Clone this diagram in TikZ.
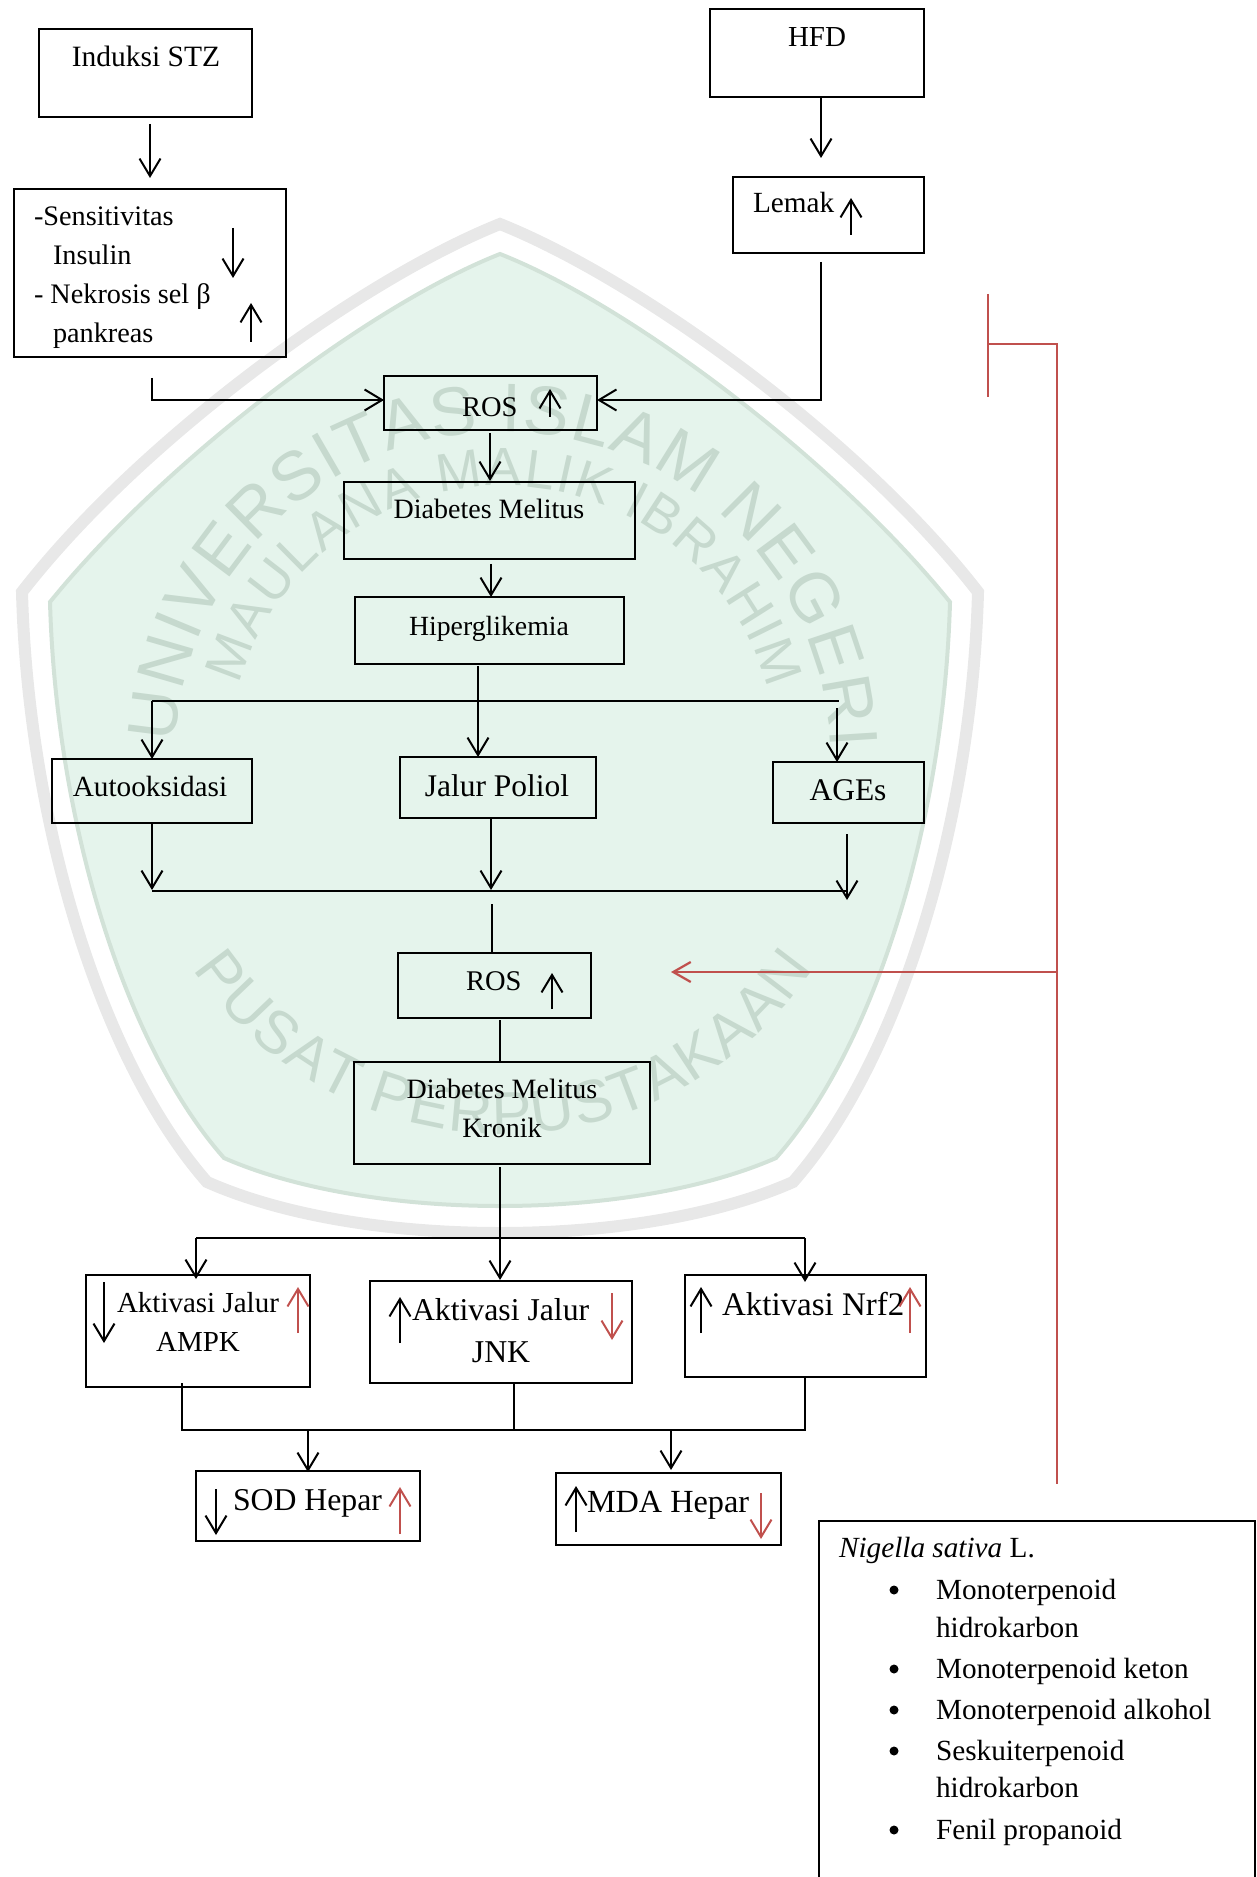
\documentclass[tikz,border=0pt]{standalone}
\usepackage{fontspec}
\setmainfont{Liberation Serif}
\newfontfamily\wmfam{Liberation Sans}
\usetikzlibrary{arrows.meta,calc,decorations.text}
\definecolor{redc}{RGB}{192,80,77}
\definecolor{wmband}{RGB}{232,232,232}
\definecolor{wmfill}{RGB}{229,244,236}
\definecolor{wmline}{RGB}{210,226,216}
\definecolor{wmtext}{RGB}{198,217,206}
\tikzset{
 boxst/.style={draw=black, line width=0.55pt, inner sep=0pt, outer sep=0pt},
 txt/.style={inner sep=0pt, outer sep=0pt, font=\fontsize{#1}{14pt}\selectfont},
 txt/.default=11.6pt,
 ln/.style={line width=0.8pt},
 conn/.style={line width=0.8pt, -{Straight Barb[length=7pt,width=8.4pt]}},
 mini/.style={line width=0.8pt, -{Straight Barb[length=7pt,width=8.4pt]}},
 redmini/.style={mini, draw=redc},
 redl/.style={draw=redc, line width=0.55pt},
 redarr/.style={draw=redc, line width=0.9pt, -{Straight Barb[length=7pt,width=8pt]}},
}
\newcommand\mybox[5]{\node[boxst, minimum width={(#4-#2)*0.4pt}, minimum height={(#5-#3)*0.4pt}] (#1) at ({(#2+#4)/2},{(#3+#5)/2}) {};}
\begin{document}
\begin{tikzpicture}[x=0.4pt,y=-0.4pt]
\useasboundingbox (0,0) rectangle (1257,1877);
\clip (0,0) rectangle (1257,1877);
% ---------- watermark ----------
\path[fill=wmfill, draw=wmline, line width=1.6pt]
 (500,254) .. controls (630,305) and (835,460) .. (950,602)
 .. controls (944,820) and (876,1045) .. (776,1158)
 .. controls (630,1222) and (370,1222) .. (224,1158)
 .. controls (124,1045) and (56,820) .. (50,602)
 .. controls (165,460) and (370,305) .. (500,254) -- cycle;
\draw[wmband, line width=4.8pt, line join=miter]
 (500,224) .. controls (640,280) and (860,440) .. (978,592)
 .. controls (972,820) and (900,1060) .. (793,1182)
 .. controls (640,1250) and (360,1250) .. (207,1182)
 .. controls (100,1060) and (28,820) .. (22,592)
 .. controls (140,440) and (360,280) .. (500,224) -- cycle;
\begin{scope}[shift={(503,760)}, y=0.4pt]
\path[decorate, decoration={text along path, text align={fit to path}, text color=wmtext,
  text={|\wmfam\fontsize{27.5pt}{30pt}\selectfont|UNIVERSITAS ISLAM NEGERI}}]
  (177:328) arc[start angle=177, end angle=2, radius=328];
\path[decorate, decoration={text along path, text align={fit to path}, text color=wmtext,
  text={|\wmfam\fontsize{21.5pt}{26pt}\selectfont|MAULANA MALIK IBRAHIM}}]
  (164:274) arc[start angle=164, end angle=15, radius=274];
\path[decorate, decoration={text along path, text align={fit to path}, text color=wmtext,
  text={|\wmfam\fontsize{24pt}{28pt}\selectfont|PUSAT PERPUSTAKAAN}}]
  (214:374) arc[start angle=214, end angle=326, radius=374];
\end{scope}
% ---------- boxes ----------
\mybox{ind}{39}{29}{252}{117}
\mybox{hfd}{710}{9}{924}{97}
\mybox{sens}{14}{189}{286}{357}
\mybox{lemak}{733}{177}{924}{253}
\mybox{ros1}{384}{376}{597}{430}
\mybox{dm}{344}{482}{635}{559}
\mybox{hip}{355}{597}{624}{664}
\mybox{auto}{52}{759}{252}{823}
\mybox{jp}{400}{757}{596}{818}
\mybox{ages}{773}{762}{924}{823}
\mybox{ros2}{398}{953}{591}{1018}
\mybox{dmk}{354}{1062}{650}{1164}
\mybox{ampk}{86}{1275}{310}{1387}
\mybox{jnk}{370}{1281}{632}{1383}
\mybox{nrf}{685}{1275}{926}{1377}
\mybox{sod}{196}{1471}{420}{1541}
\mybox{mda}{556}{1473}{781}{1545}
\mybox{nig}{819}{1521}{1255}{1920}
% ---------- texts ----------
\node[txt=11.8pt,anchor=base] (t1) at (146,67) {Induksi STZ};
\node[txt=11.6pt,anchor=base] (t2) at (817,47) {HFD};
\node[txt=11.3pt,anchor=base west] (t3) at (34,226) {-Sensitivitas};
\node[txt=11.3pt,anchor=base west] (t4) at (53,265) {Insulin};
\node[txt=11.3pt,anchor=base west] (t5) at (34,304) {- Nekrosis sel β};
\node[txt=11.3pt,anchor=base west] (t6) at (53,343) {pankreas};
\node[txt=11.7pt,anchor=base west] (t7) at (753,213) {Lemak};
\node[txt=11.4pt,anchor=base west] (t8) at (462,417) {ROS};
\node[txt=11.2pt,anchor=base] (t9) at (489,519) {Diabetes Melitus};
\node[txt=11.1pt,anchor=base] (t10) at (489,635) {Hiperglikemia};
\node[txt=11.7pt,anchor=base] (t11) at (150,796) {Autooksidasi};
\node[txt=12.6pt,anchor=base] (t12) at (497,796) {Jalur Poliol};
\node[txt=12.6pt,anchor=base] (t13) at (848,800) {AGEs};
\node[txt=11.4pt,anchor=base west] (t14) at (466,990) {ROS};
\node[txt=11.2pt,anchor=base] (t15) at (502,1098) {Diabetes Melitus};
\node[txt=11.2pt,anchor=base] (t16) at (502,1137) {Kronik};
\node[txt=11.6pt,anchor=base west] (t17) at (117,1312) {Aktivasi Jalur};
\node[txt=11.6pt,anchor=base] (t18) at (198,1351) {AMPK};
\node[txt=12.7pt,anchor=base west] (t19) at (412,1320) {Aktivasi Jalur};
\node[txt=12.7pt,anchor=base] (t20) at (501,1362) {JNK};
\node[txt=13.2pt,anchor=base west] (t21) at (722,1315) {Aktivasi Nrf2};
\node[txt=12.7pt,anchor=base west] (t22) at (233,1510) {SOD Hepar};
\node[txt=12.9pt,anchor=base west] (t23) at (587,1512) {MDA Hepar};
\node[txt=11.7pt,anchor=base west] (t24) at (839,1557) {\textit{Nigella sativa} L.};
\node[txt=11.7pt,anchor=base west] (t25) at (936,1599) {Monoterpenoid};
\node[txt=11.7pt,anchor=base west] (t26) at (936,1637) {hidrokarbon};
\node[txt=11.7pt,anchor=base west] (t27) at (936,1678) {Monoterpenoid keton};
\node[txt=11.7pt,anchor=base west] (t28) at (936,1719) {Monoterpenoid alkohol};
\node[txt=11.7pt,anchor=base west] (t29) at (936,1760) {Seskuiterpenoid};
\node[txt=11.7pt,anchor=base west] (t30) at (936,1797) {hidrokarbon};
\node[txt=11.7pt,anchor=base west] (t31) at (936,1839) {Fenil propanoid};
\foreach \yy in {1590,1669,1710,1751,1830} \fill (894,\yy) circle (1.8pt);
% ---------- small up/down marks ----------
\draw[mini] (233,228) -- (233,278);
\draw[mini] (251,342) -- (251,303);
\draw[mini] (851,235) -- (851,198);
\draw[mini] (550,417) -- (550,389);
\draw[mini] (552,1009) -- (552,973);
\draw[mini] (104,1282) -- (104,1343);
\draw[redmini] (298,1333) -- (298,1287);
\draw[mini] (400,1343) -- (400,1297);
\draw[redmini] (612,1293) -- (612,1340);
\draw[mini] (701,1333) -- (701,1287);
\draw[redmini] (910,1333) -- (910,1287);
\draw[mini] (216,1489) -- (216,1535);
\draw[redmini] (400,1534) -- (400,1487);
\draw[mini] (576,1532) -- (576,1486);
\draw[redmini] (761,1493) -- (761,1539);
% ---------- connectors ----------
\draw[conn] ($(ind.south)+(4.5,7)$) -- ($(sens.north)+(0,-11)$);
\draw[conn] ($(hfd.south)+(4,0)$) -- ($(lemak.north)+(-7.5,-19)$);
\draw[conn] ($(sens.south)+(2,21)$) |- ($(ros1.west)+(0,-3)$);
\draw[conn] ($(lemak.south)+(-7.5,9)$) |- ($(ros1.east)+(0,-3)$);
\draw[conn] ($(ros1.south)+(-0.5,3)$) -- ($(dm.north)+(0.5,-1)$);
\draw[conn] ($(dm.south)+(1.5,5)$) -- ($(hip.north)+(1.5,0)$);
\draw[conn] ($(hip.south)+(-11.5,2)$) -- ($(jp.north)+(-20,0)$);
\draw[ln] ($(auto.north)+(0,-58)$) -- ($(ages.north)+(-9.5,-61)$);
\draw[conn] ($(auto.north)+(0,-58)$) -- (auto.north);
\draw[conn] ($(ages.north)+(-11.5,-54)$) -- ($(ages.north)+(-11.5,0)$);
\draw[conn] (auto.south) -- ($(auto.south)+(0,67)$);
\draw[conn] ($(jp.south)+(-7,0)$) -- ($(jp.south)+(-7,72)$);
\draw[conn] ($(ages.south)+(-1.5,11)$) -- ($(ages.south)+(-1.5,77)$);
\draw[ln] ($(auto.south)+(0,68)$) -- ($(ages.south)+(-1.5,68)$);
\draw[ln] ($(ros2.north)+(-2.5,-49)$) -- ($(ros2.north)+(-2.5,0)$);
\draw[ln] ($(ros2.south)+(5.5,2)$) -- ($(dmk.north)+(-2,0)$);
\draw[conn] ($(dmk.south)+(-2,3)$) -- ($(jnk.north)+(-1,-1)$);
\draw[ln] ($(ampk.north)+(-2,-37)$) -- ($(nrf.north)+(-0.5,-37)$);
\draw[conn] ($(ampk.north)+(-2,-37)$) -- ($(ampk.north)+(-2,4)$);
\draw[conn] ($(nrf.north)+(-0.5,-37)$) -- ($(nrf.north)+(-0.5,7)$);
\draw[ln] ($(ampk.south)+(-16,-4)$) -- ($(ampk.south)+(-16,43)$) -- ($(nrf.south)+(-0.5,53)$) -- ($(nrf.south)+(-0.5,0)$);
\draw[ln] ($(jnk.south)+(13,0)$) -- ($(jnk.south)+(13,47)$);
\draw[conn] ($(sod.north)+(0,-41)$) -- ($(sod.north)+(0,1)$);
\draw[conn] ($(mda.north)+(2.5,-43)$) -- ($(mda.north)+(2.5,-3)$);
% ---------- red inhibition lines ----------
\coordinate (r1) at (988,294);
\coordinate (r2) at (988,397);
\coordinate (rj) at (988,344);
\coordinate (rc) at (1057,344);
\coordinate (re) at (1057,1484);
\coordinate (rm) at (1057,972);
\draw[redl] (r1) -- (r2);
\draw[redl] (rj) -- (rc) -- (re);
\draw[redarr] (rm) -- ($(ros2.east)+(80,-13.5)$);
\end{tikzpicture}
\end{document}
